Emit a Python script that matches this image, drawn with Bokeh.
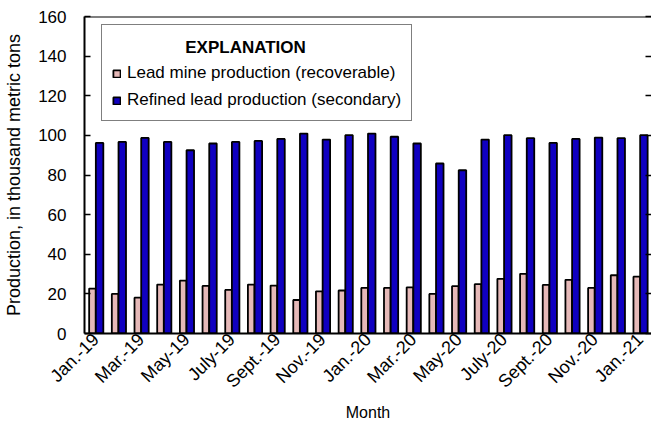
import math
from bokeh.plotting import figure
from bokeh.models import (ColumnDataSource, Range1d, LinearAxis, FixedTicker, Span,
                          SingleIntervalTicker, Legend, LegendItem, Label,
                          CustomJSTickFormatter)
from bokeh.transform import dodge
from bokeh.embed import file_html
from bokeh.resources import INLINE

months = ["Jan.-19", "Feb.-19", "Mar.-19", "Apr.-19", "May-19", "June-19", "July-19",
          "Aug.-19", "Sept.-19", "Oct.-19", "Nov.-19", "Dec.-19", "Jan.-20", "Feb.-20",
          "Mar.-20", "Apr.-20", "May-20", "June-20", "July-20", "Aug.-20", "Sept.-20",
          "Oct.-20", "Nov.-20", "Dec.-20", "Jan.-21"]
mine = [22.7, 20.0, 18.1, 24.7, 26.7, 24.0, 22.0, 24.7, 24.2, 16.9, 21.3, 21.7, 23.0,
        23.0, 23.3, 20.0, 23.9, 24.9, 27.6, 30.1, 24.5, 27.1, 23.0, 29.4, 28.7]
refined = [96.2, 96.7, 98.7, 96.7, 92.5, 95.9, 96.7, 97.2, 98.2, 100.9, 97.9, 100.1,
           100.9, 99.3, 95.9, 85.8, 82.4, 97.9, 100.1, 98.6, 96.2, 98.2, 98.9, 98.6, 100.1]
tick_labels = ["Jan.-19", "Mar.-19", "May-19", "July-19", "Sept.-19", "Nov.-19",
               "Jan.-20", "Mar.-20", "May-20", "July-20", "Sept.-20", "Nov.-20", "Jan.-21"]
tick_positions = [months.index(t) if i < 6 else months.index(t, 12) for i, t in enumerate(tick_labels)]

FONT = "Liberation Sans"
PINK = "#E6B9B8"
BLUE = "#1000C0"

source = ColumnDataSource(data=dict(x=list(range(len(months))), month=months,
                                    mine=mine, refined=refined))

p = figure(width=651, height=423, output_backend="svg", toolbar_location=None,
           x_range=Range1d(-0.5, len(months) - 0.5), y_range=Range1d(0, 160),
           min_border_left=84, min_border_right=0, min_border_top=16, min_border_bottom=89)
p.xgrid.visible = False
p.ygrid.visible = False
p.outline_line_color = None
p.background_fill_color = "white"

r1 = p.vbar(x=dodge("x", -0.15), top="mine", width=0.29, bottom=0, source=source,
            fill_color=PINK, line_color="black", line_width=1.8)
r2 = p.vbar(x=dodge("x", 0.165), top="refined", width=0.33, bottom=0, source=source,
            fill_color=BLUE, line_color="black", line_width=1.8)

# bottom axis
xa = p.xaxis[0]
xa.ticker = FixedTicker(ticks=tick_positions)
xa.major_label_overrides = {pos: lab for pos, lab in zip(tick_positions, tick_labels)}
xa.major_label_orientation = math.pi / 4
xa.major_tick_in = 0
xa.major_tick_out = 0
xa.minor_tick_in = 0
xa.minor_tick_out = 0
xa.axis_line_width = 2
xa.axis_label = "Month"
xa.axis_label_text_font = FONT
xa.axis_label_text_font_style = "normal"
xa.axis_label_text_font_size = "16px"
xa.axis_label_text_color = "black"
xa.axis_label_standoff = 2
xa.major_label_text_font = FONT
xa.major_label_text_font_size = "18px"
xa.major_label_text_color = "black"
xa.major_label_standoff = 3

# left axis
ya = p.yaxis[0]
ya.ticker = SingleIntervalTicker(interval=20)
ya.major_tick_in = 6
ya.major_tick_out = 0
ya.minor_tick_in = 0
ya.minor_tick_out = 0
ya.axis_line_width = 2
ya.major_tick_line_width = 1.5
ya.major_label_text_font = FONT
ya.major_label_text_font_size = "17px"
ya.major_label_text_color = "black"
ya.major_label_standoff = 18
ya.axis_label = "Production, in thousand metric tons"
ya.axis_label_text_font = FONT
ya.axis_label_text_font_style = "normal"
ya.axis_label_text_font_size = "18px"
ya.axis_label_text_color = "black"
ya.axis_label_standoff = 11

# right side: inward ticks only
ra = LinearAxis(ticker=SingleIntervalTicker(interval=20), major_tick_in=6, major_tick_out=0,
                minor_tick_in=0, minor_tick_out=0, major_label_standoff=0,
                formatter=CustomJSTickFormatter(code="return ''"),
                axis_line_color=None, major_tick_line_width=1.5)
p.add_layout(ra, "right")

# top border line
p.add_layout(Span(location=160, dimension="width", line_color="black", line_width=2))

legend = Legend(items=[LegendItem(label="Lead mine production (recoverable)", renderers=[r1]),
                       LegendItem(label="Refined lead production (secondary)", renderers=[r2])],
                location=(17, 212), title="EXPLANATION", title_text_alpha=0,
                title_text_font=FONT, title_text_font_size="17px", title_text_font_style="bold",
                title_standoff=8,
                label_text_font=FONT, label_text_font_size="17px", label_text_color="black",
                glyph_width=9, glyph_height=9, label_standoff=6, spacing=7,
                padding=10, margin=0, border_line_color="black", border_line_width=1,
                background_fill_color="white", background_fill_alpha=0)
p.add_layout(legend)

title = Label(x=6.6, y=144.5, text="EXPLANATION", text_align="center",
              text_baseline="alphabetic", text_font=FONT, text_font_size="17px",
              text_font_style="bold", text_color="black", level="overlay")
p.add_layout(title)

open("out.html", "w").write(file_html(p, INLINE))
